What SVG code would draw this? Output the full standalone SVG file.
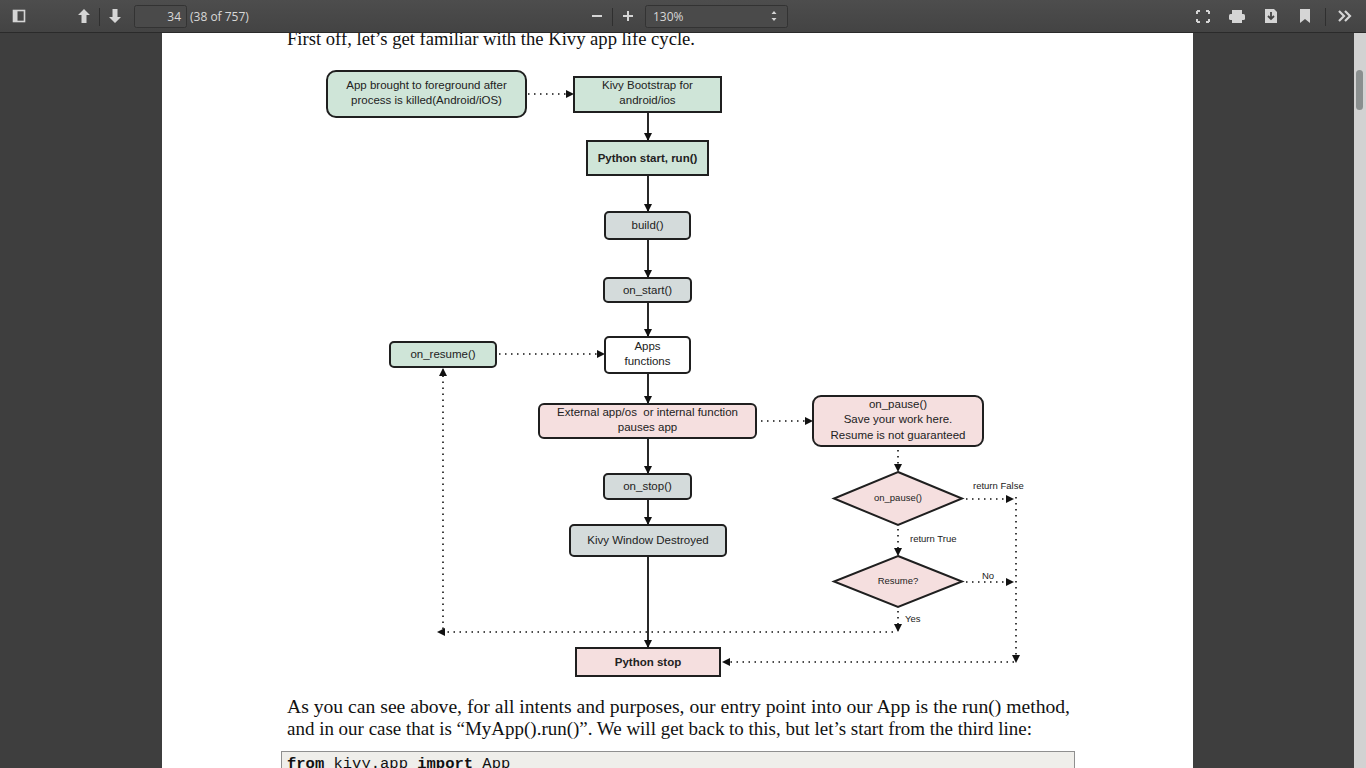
<svg xmlns="http://www.w3.org/2000/svg" width="1366" height="768" viewBox="0 0 1366 768">
<defs>
<marker id="ah" viewBox="0 0 10 10" refX="10" refY="5" markerWidth="8" markerHeight="8" markerUnits="userSpaceOnUse" orient="auto">
<path d="M0,0 L10,5 L0,10 z" fill="#111"/>
</marker>
<linearGradient id="tb" x1="0" y1="0" x2="0" y2="1">
<stop offset="0" stop-color="#4d4d4d"/>
<stop offset="1" stop-color="#434343"/>
</linearGradient>
</defs>
<style>
.body{font-family:"Liberation Serif",serif;font-size:18px;fill:#111}
.n{font-family:"Liberation Sans",Arial,sans-serif;font-size:11.5px;fill:#222;text-anchor:middle}
.b{font-weight:bold}
.sm{font-family:"Liberation Sans",Arial,sans-serif;font-size:9.5px;fill:#222}
.box{stroke:#1f1f1f;stroke-width:2}
.green{fill:#cfe5d8}
.gray{fill:#d4dbdb}
.pink{fill:#f5dfdf}
.white{fill:#ffffff}
.solid{stroke:#111;stroke-width:1.8;fill:none}
.dot{stroke:#111;stroke-width:1.6;fill:none;stroke-dasharray:1.5 4.5}
.tbt{font-family:"Open Sans","Liberation Sans",sans-serif;font-size:12px;fill:#d8d8d8}
.icon{fill:#d5d5d5}
</style>

<!-- background -->
<rect x="0" y="0" width="1366" height="768" fill="#3e3e3e"/>
<rect x="162" y="33" width="1031" height="735" fill="#ffffff"/>
<rect x="1354" y="33" width="12" height="735" fill="#d2d2d2"/>
<rect x="1356" y="70" width="7" height="40" rx="3.5" fill="#8a8f8f"/>

<!-- page text -->
<text class="body" x="287" y="45" textLength="408" lengthAdjust="spacingAndGlyphs">First off, let’s get familiar with the Kivy app life cycle.</text>
<text class="body" x="287" y="713" textLength="783" lengthAdjust="spacingAndGlyphs">As you can see above, for all intents and purposes, our entry point into our App is the run() method,</text>
<text class="body" x="287" y="735" textLength="745" lengthAdjust="spacingAndGlyphs">and in our case that is “MyApp().run()”. We will get back to this, but let’s start from the third line:</text>
<rect x="281.5" y="751.5" width="793" height="40" fill="#efeeea" stroke="#8f8f8f" stroke-width="1"/>
<text x="287" y="768" font-family="'Liberation Mono',monospace" font-size="15.5" fill="#111"><tspan font-weight="bold">from</tspan> kivy.app <tspan font-weight="bold">import</tspan> App</text>

<!-- toolbar -->
<g id="toolbar">
<rect x="0" y="0" width="1366" height="33" fill="url(#tb)"/>
<rect x="0" y="32" width="1366" height="1" fill="#2a2a2a"/>
<rect x="13.5" y="10.5" width="11" height="11" fill="none" stroke="#d5d5d5" stroke-width="1.6"/>
<rect x="13.5" y="10.5" width="4" height="11" fill="#d5d5d5"/>
<path class="icon" d="M84,9 L90,15 L86.5,15 L86.5,23 L81.5,23 L81.5,15 L78,15 z"/>
<rect x="99" y="8" width="1" height="18" fill="#2f2f2f"/>
<path class="icon" d="M115,23 L121,17 L117.5,17 L117.5,9 L112.5,9 L112.5,17 L109,17 z"/>
<rect x="134.5" y="5.5" width="52" height="22" rx="2" fill="#4a4a4a" stroke="#333" stroke-width="1"/>
<text class="tbt" x="181" y="21" text-anchor="end">34</text>
<text class="tbt" x="190" y="21" fill="#bdbdbd">(38 of 757)</text>
<rect x="592" y="15" width="10" height="2" fill="#d5d5d5"/>
<rect x="612" y="8" width="1" height="18" fill="#2f2f2f"/>
<rect x="623" y="15" width="10" height="2" fill="#d5d5d5"/>
<rect x="627" y="11" width="2" height="10" fill="#d5d5d5"/>
<rect x="645.5" y="5.5" width="142" height="22" rx="2" fill="#4a4a4a" stroke="#333" stroke-width="1"/>
<text class="tbt" x="653" y="21">130%</text>
<path class="icon" d="M771.5,14 L774,11 L776.5,14 z M771.5,18 L774,21 L776.5,18 z"/>
<path d="M1197,11 h3 M1197,11 v3 M1209,11 h-3 M1209,11 v3 M1197,22 h3 M1197,22 v-3 M1209,22 h-3 M1209,22 v-3" stroke="#d5d5d5" stroke-width="2" fill="none"/>
<rect x="1232" y="10" width="10" height="4" fill="#d5d5d5"/>
<rect x="1229" y="14" width="16" height="6" rx="1.5" fill="#d5d5d5"/>
<rect x="1232" y="19" width="10" height="4" fill="#d5d5d5"/>
<path class="icon" d="M1265,9 L1274,9 L1277,12 L1277,23 L1265,23 z"/>
<path d="M1271,12 v7 M1268,16 l3,3 l3,-3" stroke="#444" stroke-width="1.8" fill="none"/>
<path class="icon" d="M1300,9 L1310,9 L1310,23 L1305,19 L1300,23 z"/>
<rect x="1325" y="8" width="1" height="18" fill="#2f2f2f"/>
<path d="M1339,11 l5,5 l-5,5 M1345,11 l5,5 l-5,5" stroke="#d5d5d5" stroke-width="2.2" fill="none"/>
</g>

<!-- connectors -->
<g id="connectors">
<path class="dot" d="M528,94 H574" marker-end="url(#ah)"/>
<path class="solid" d="M648,113 V141" marker-end="url(#ah)"/>
<path class="solid" d="M648,176 V212" marker-end="url(#ah)"/>
<path class="solid" d="M648,240 V278" marker-end="url(#ah)"/>
<path class="solid" d="M648,303 V337" marker-end="url(#ah)"/>
<path class="dot" d="M499,354 H605" marker-end="url(#ah)"/>
<path class="solid" d="M648,374 V404" marker-end="url(#ah)"/>
<path class="dot" d="M761,421 H813" marker-end="url(#ah)"/>
<path class="solid" d="M648,439 V474" marker-end="url(#ah)"/>
<path class="solid" d="M648,500 V525" marker-end="url(#ah)"/>
<path class="solid" d="M648,557 V648" stroke-width="1.3" marker-end="url(#ah)"/>
<path class="dot" d="M898,450 V472" marker-end="url(#ah)"/>
<path class="dot" d="M966,499 H1014" marker-end="url(#ah)"/>
<path class="dot" d="M898,529 V556" marker-end="url(#ah)"/>
<path class="dot" d="M966,582 H1014" marker-end="url(#ah)"/>
<path class="dot" d="M1016,497 V663" marker-end="url(#ah)"/>
<path class="dot" d="M1014,662 H722" marker-end="url(#ah)"/>
<path class="dot" d="M898,611 V632" marker-end="url(#ah)"/>
<path class="dot" d="M893,632 H437" marker-end="url(#ah)"/>
<path class="dot" d="M443,629 V368" marker-end="url(#ah)"/>
<text class="sm" x="973" y="489">return False</text>
<text class="sm" x="910" y="542">return True</text>
<text class="sm" x="982" y="579">No</text>
<text class="sm" x="905" y="622">Yes</text>
</g>

<!-- nodes -->
<g id="n_foreground">
<rect class="box green" x="327" y="71" width="199" height="46" rx="9"/>
<text class="n" x="426.5" y="89">App brought to foreground after</text>
<text class="n" x="426.5" y="104">process is killed(Android/iOS)</text>
</g>
<g id="n_bootstrap">
<rect class="box green" x="574" y="77" width="147" height="35"/>
<text class="n" x="647.5" y="89">Kivy Bootstrap for</text>
<text class="n" x="647.5" y="104">android/ios</text>
</g>
<g id="n_pystart">
<rect class="box green" x="587" y="141" width="121" height="34"/>
<text class="n b" x="647.5" y="162">Python start, run()</text>
</g>
<g id="n_build">
<rect class="box gray" x="605" y="212" width="85" height="27" rx="4"/>
<text class="n" x="647.5" y="229">build()</text>
</g>
<g id="n_onstart">
<rect class="box gray" x="604" y="278" width="87" height="24" rx="4"/>
<text class="n" x="647.5" y="294">on_start()</text>
</g>
<g id="n_apps">
<rect class="box white" x="605" y="337" width="85" height="36" rx="4"/>
<text class="n" x="647.5" y="350">Apps</text>
<text class="n" x="647.5" y="365">functions</text>
</g>
<g id="n_onresume">
<rect class="box green" x="390" y="342" width="106" height="25" rx="4"/>
<text class="n" x="443" y="358">on_resume()</text>
</g>
<g id="n_external">
<rect class="box pink" x="539" y="404" width="217" height="34" rx="5"/>
<text class="n" x="647.5" y="416" xml:space="preserve">External app/os  or internal function</text>
<text class="n" x="647.5" y="431">pauses app</text>
</g>
<g id="n_onpause_box">
<rect class="box pink" x="813" y="396" width="170" height="50" rx="8"/>
<text class="n" x="898" y="408">on_pause()</text>
<text class="n" x="898" y="423">Save your work here.</text>
<text class="n" x="898" y="439">Resume is not guaranteed</text>
</g>
<g id="n_onpause_dec">
<polygon class="box pink" points="898,472 962,498.5 898,525 834,498.5" stroke-width="1.6"/>
<text class="sm" x="898" y="501" text-anchor="middle">on_pause()</text>
</g>
<g id="n_onstop">
<rect class="box gray" x="604" y="474" width="87" height="25" rx="4"/>
<text class="n" x="647.5" y="490">on_stop()</text>
</g>
<g id="n_window">
<rect class="box gray" x="570" y="525" width="156" height="31" rx="4"/>
<text class="n" x="648" y="544">Kivy Window Destroyed</text>
</g>
<g id="n_resume_dec">
<polygon class="box pink" points="898,556 962,581.5 898,607 834,581.5" stroke-width="1.6"/>
<text class="sm" x="898" y="584" text-anchor="middle">Resume?</text>
</g>
<g id="n_pystop">
<rect class="box pink" x="576" y="648" width="144" height="28"/>
<text class="n b" x="648" y="666">Python stop</text>
</g>
</svg>
